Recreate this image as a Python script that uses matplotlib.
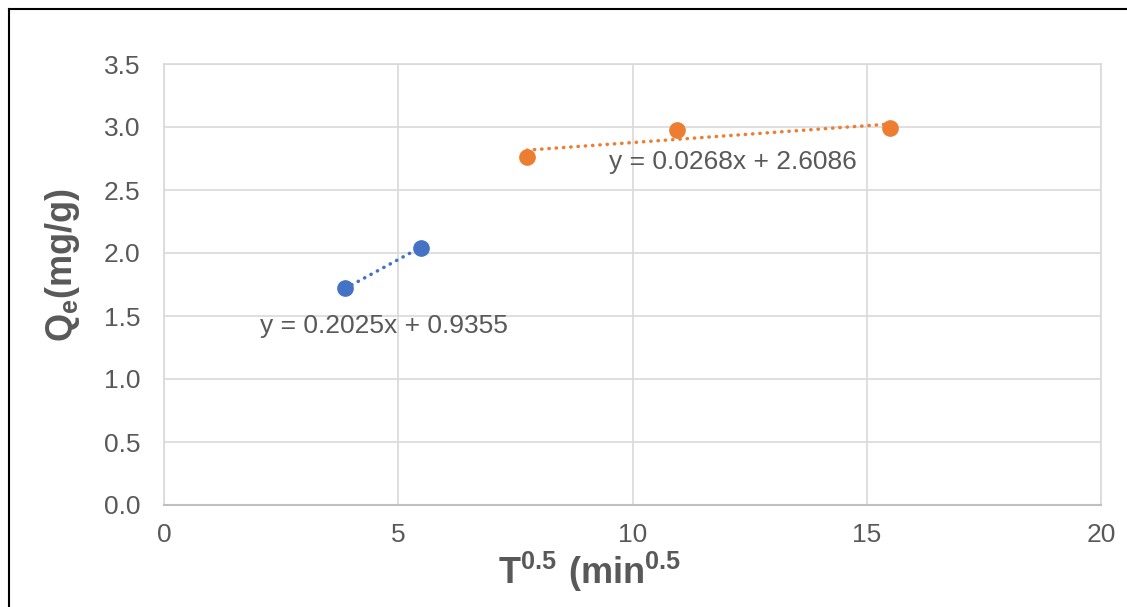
import matplotlib
matplotlib.use("Agg")
import matplotlib.pyplot as plt
from matplotlib.lines import Line2D
import numpy as np

plt.rcParams['font.family'] = ['Liberation Sans', 'DejaVu Sans']
plt.rcParams['mathtext.fontset'] = 'custom'
plt.rcParams['mathtext.rm'] = 'Liberation Sans'
plt.rcParams['mathtext.bf'] = 'Liberation Sans:bold'

# sqrt(t) vs Qe, two stages
x_stage1 = [3.87, 5.48]
y_stage1 = [1.72, 2.04]
x_stage2 = [7.75, 10.95, 15.49]
y_stage2 = [2.76, 2.98, 2.99]

# trendline coefficients as printed on the chart
fit1 = (0.2025, 0.9355)
fit2 = (0.0268, 2.6086)
fit1_label = "y = 0.2025x + 0.9355"
fit2_label = "y = 0.0268x + 2.6086"

x_ticks = [0, 5, 10, 15, 20]
y_ticks = [0.0, 0.5, 1.0, 1.5, 2.0, 2.5, 3.0, 3.5]

blue = '#4472C4'
orange = '#ED7D31'
text_grey = '#595959'
grid_grey = '#D9D9D9'

fig = plt.figure(figsize=(11.27, 6.07), dpi=100)
ax = fig.add_axes([164 / 1127, 1 - 505 / 607, (1101 - 164) / 1127, (505 - 64) / 607])

# trendlines (dotted), drawn from first to last point of each series
for xs, (m, b), c in [(x_stage1, fit1, blue), (x_stage2, fit2, orange)]:
    xl = np.array([xs[0], xs[-1]])
    ax.plot(xl, m * xl + b, color=c, lw=2.5, linestyle=(0, (0.1, 2.0)),
            dash_capstyle='round', zorder=2)

ax.plot(x_stage1, y_stage1, 'o', color=blue, ms=11, zorder=3)
ax.plot(x_stage2, y_stage2, 'o', color=orange, ms=11, zorder=3)

ax.text(2.05, 1.42, fit1_label, fontsize=19, color=text_grey, va='center', ha='left')
ax.text(9.5, 2.72, fit2_label, fontsize=19, color=text_grey, va='center', ha='left')

ax.set_xlim(0, 20)
ax.set_ylim(0, 3.5)
ax.set_xticks(x_ticks)
ax.set_yticks(y_ticks)
ax.set_xticklabels([str(v) for v in x_ticks])
ax.set_yticklabels([f"{v:.1f}" for v in y_ticks])
ax.tick_params(axis='both', length=0, labelsize=19, colors=text_grey)
ax.tick_params(axis='x', pad=13)
ax.tick_params(axis='y', pad=17)
ax.grid(True, color=grid_grey, lw=1.2)
ax.set_axisbelow(True)
for s in ['left', 'top', 'right']:
    ax.spines[s].set_color(grid_grey)
    ax.spines[s].set_linewidth(1.2)
ax.spines['bottom'].set_color('#BFBFBF')
ax.spines['bottom'].set_linewidth(1.5)

fig.text(590 / 1127, 1 - 572 / 607, r'$\mathbf{T^{0.5}\ (min^{0.5}}$',
         fontsize=26, color=text_grey, ha='center', va='center')
fig.text(62 / 1127, 1 - 265 / 607, r'$\mathbf{Q_e(mg/g)}$',
         fontsize=26, color=text_grey, ha='center', va='center', rotation=90)

# outer frame: only left and top edges visible
fig.add_artist(Line2D([8.5 / 1127, 8.5 / 1127], [0, 1 - 8.5 / 607], color='black', lw=1.5))
fig.add_artist(Line2D([8.5 / 1127, 1], [1 - 8.5 / 607, 1 - 8.5 / 607], color='black', lw=1.5))

fig.savefig('out.png', dpi=100)
